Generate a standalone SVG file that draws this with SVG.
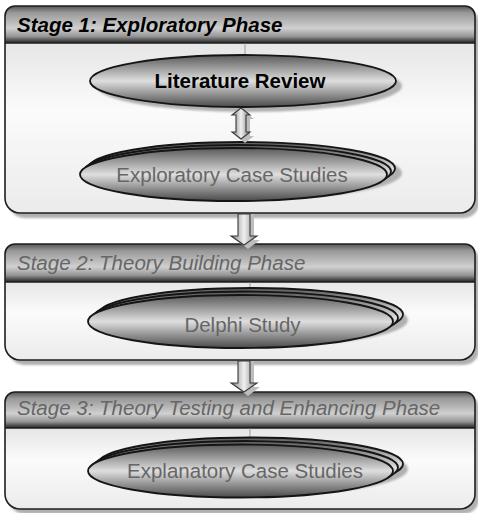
<svg xmlns="http://www.w3.org/2000/svg" width="478" height="513" viewBox="0 0 478 513">
  <defs>
    <linearGradient id="hdr" x1="0" y1="0" x2="0" y2="1">
      <stop offset="0" stop-color="#555555"/>
      <stop offset="0.18" stop-color="#989898"/>
      <stop offset="0.6" stop-color="#d0d0d0"/>
      <stop offset="0.82" stop-color="#969696"/>
      <stop offset="1" stop-color="#222222"/>
    </linearGradient>
    <linearGradient id="body" x1="0" y1="0" x2="0" y2="1">
      <stop offset="0" stop-color="#e6e6e6"/>
      <stop offset="0.4" stop-color="#fbfbfb"/>
      <stop offset="1" stop-color="#ebebeb"/>
    </linearGradient>
    <linearGradient id="oval" x1="0" y1="0" x2="0" y2="1">
      <stop offset="0" stop-color="#5a5a5a"/>
      <stop offset="0.5" stop-color="#dedede"/>
      <stop offset="1" stop-color="#4a4a4a"/>
    </linearGradient>
    <linearGradient id="shaft" x1="0" y1="0" x2="1" y2="0">
      <stop offset="0" stop-color="#808080"/>
      <stop offset="0.5" stop-color="#f0f0f0"/>
      <stop offset="1" stop-color="#808080"/>
    </linearGradient>
    <filter id="soft" x="-10%" y="-10%" width="120%" height="120%">
      <feGaussianBlur stdDeviation="1.2"/>
    </filter>
  </defs>
  <style>
    .shadow { fill: #b0b0b0; filter: url(#soft); }
    .hdr { fill: url(#hdr); }
    .body { fill: url(#body); }
    .frame { fill: none; stroke: #1e1e1e; stroke-width: 1.6; }
    .oval { fill: url(#oval); stroke: #151515; stroke-width: 1.8; }
    .tick { stroke: #8a8a8a; stroke-width: 0.8; }
    .arrow { fill: url(#shaft); stroke: #3a3a3a; stroke-width: 1.1; }
    .ashadow { fill: #bdbdbd; }
    .title1 { font-family: "Liberation Sans", Arial, sans-serif; font-size: 20.5px; font-style: italic; font-weight: bold; fill: #000; }
    .title { font-family: "Liberation Sans", Arial, sans-serif; font-size: 20.5px; font-style: italic; fill: #666; }
    .lbl1 { font-family: "Liberation Sans", Arial, sans-serif; font-size: 20.5px; font-weight: bold; fill: #000; text-anchor: middle; }
    .lbl { font-family: "Liberation Sans", Arial, sans-serif; font-size: 20.5px; fill: #666; text-anchor: middle; }
  </style>

  <!-- Stage 1 container -->
  <g id="stage1">
    <path class="shadow" d="M9,21 A10,10 0 0 1 19,11 L469,11 A10,10 0 0 1 479,21 L479,203 A15,15 0 0 1 464,218 L24,218 A15,15 0 0 1 9,203 Z"/>
    <path class="body" d="M5,43 L475,43 L475,198 A15,15 0 0 1 460,213 L20,213 A15,15 0 0 1 5,198 Z"/>
    <path class="hdr" d="M5,43 L5,16 A10,10 0 0 1 15,6 L465,6 A10,10 0 0 1 475,16 L475,43 Z"/>
    <path class="frame" d="M5,16 A10,10 0 0 1 15,6 L465,6 A10,10 0 0 1 475,16 L475,198 A15,15 0 0 1 460,213 L20,213 A15,15 0 0 1 5,198 Z M5,43 L475,43"/>
    <text class="title1" x="17" y="32">Stage 1: Exploratory Phase</text>
  </g>

  <g id="literature-review">
    <line class="tick" x1="245" y1="43" x2="245" y2="55"/>
    <ellipse class="shadow" cx="249" cy="86" rx="153" ry="26"/>
    <ellipse class="oval" cx="243" cy="81" rx="153" ry="26"/>
    <text class="lbl1" x="240" y="88">Literature Review</text>
  </g>

  <g id="exploratory-case-studies">
    <ellipse class="shadow" cx="248" cy="173" rx="154" ry="26.5"/>
    <ellipse class="oval" cx="241.5" cy="168.5" rx="153.5" ry="26.5"/>
    <ellipse class="oval" cx="237.5" cy="171.5" rx="153.5" ry="26.5"/>
    <ellipse class="oval" cx="233.5" cy="174.5" rx="153.5" ry="26.5"/>
    <text class="lbl" x="232" y="182">Exploratory Case Studies</text>
  </g>

  <!-- Stage 2 container -->
  <g id="stage2">
    <path class="shadow" d="M9,259 A10,10 0 0 1 19,249 L469,249 A10,10 0 0 1 479,259 L479,350 A15,15 0 0 1 464,365 L24,365 A15,15 0 0 1 9,350 Z"/>
    <path class="body" d="M5,282 L475,282 L475,345 A15,15 0 0 1 460,360 L20,360 A15,15 0 0 1 5,345 Z"/>
    <path class="hdr" d="M5,282 L5,254 A10,10 0 0 1 15,244 L465,244 A10,10 0 0 1 475,254 L475,282 Z"/>
    <path class="frame" d="M5,254 A10,10 0 0 1 15,244 L465,244 A10,10 0 0 1 475,254 L475,345 A15,15 0 0 1 460,360 L20,360 A15,15 0 0 1 5,345 Z M5,282 L475,282"/>
    <text class="title" x="17" y="270">Stage 2: Theory Building Phase</text>
  </g>

  <g id="delphi-study">
    <line class="tick" x1="250" y1="282" x2="250" y2="295"/>
    <ellipse class="shadow" cx="255" cy="320" rx="153" ry="26.5"/>
    <ellipse class="oval" cx="250.5" cy="314.5" rx="152.5" ry="26.5"/>
    <ellipse class="oval" cx="245.5" cy="318" rx="152.5" ry="26.5"/>
    <ellipse class="oval" cx="240.5" cy="321.5" rx="152.5" ry="26.5"/>
    <text class="lbl" x="242.5" y="332">Delphi Study</text>
  </g>

  <!-- Stage 3 container -->
  <g id="stage3">
    <path class="shadow" d="M9,407 A10,10 0 0 1 19,397 L469,397 A10,10 0 0 1 479,407 L479,499 A15,15 0 0 1 464,514 L24,514 A15,15 0 0 1 9,499 Z"/>
    <path class="body" d="M5,428 L475,428 L475,494 A15,15 0 0 1 460,509 L20,509 A15,15 0 0 1 5,494 Z"/>
    <path class="hdr" d="M5,428 L5,402 A10,10 0 0 1 15,392 L465,392 A10,10 0 0 1 475,402 L475,428 Z"/>
    <path class="frame" d="M5,402 A10,10 0 0 1 15,392 L465,392 A10,10 0 0 1 475,402 L475,494 A15,15 0 0 1 460,509 L20,509 A15,15 0 0 1 5,494 Z M5,428 L475,428"/>
    <text class="title" x="17" y="415">Stage 3: Theory Testing and Enhancing Phase</text>
  </g>

  <g id="explanatory-case-studies">
    <line class="tick" x1="250" y1="428" x2="250" y2="437"/>
    <ellipse class="shadow" cx="255" cy="469" rx="153" ry="26.5"/>
    <ellipse class="oval" cx="250.5" cy="464" rx="152.5" ry="26.5"/>
    <ellipse class="oval" cx="245.5" cy="467.5" rx="152.5" ry="26.5"/>
    <ellipse class="oval" cx="240.5" cy="471" rx="152.5" ry="26.5"/>
    <text class="lbl" x="245" y="478">Explanatory Case Studies</text>
  </g>

  <!-- Connectors: block arrows between phases -->
  <g id="connectors">
    <polygon class="ashadow" points="245,112 254,119 250,119 250,136 254,136 245,143 236,136 240,136 240,119 236,119"/>
    <polygon class="arrow" points="241,108 250,115 246,115 246,132 250,132 241,139 232,132 236,132 236,115 232,115"/>

    <polygon class="ashadow" points="242,214 254,214 254,240 260,240 248,249 236,240 242,240"/>
    <polygon class="arrow" points="238,214 250,214 250,236 257,236 244,245 231,236 238,236"/>

    <polygon class="ashadow" points="242,361 254,361 254,387 260,387 248,396 236,387 242,387"/>
    <polygon class="arrow" points="238,361 250,361 250,383 257,383 244,392 231,383 238,383"/>
  </g>
</svg>
